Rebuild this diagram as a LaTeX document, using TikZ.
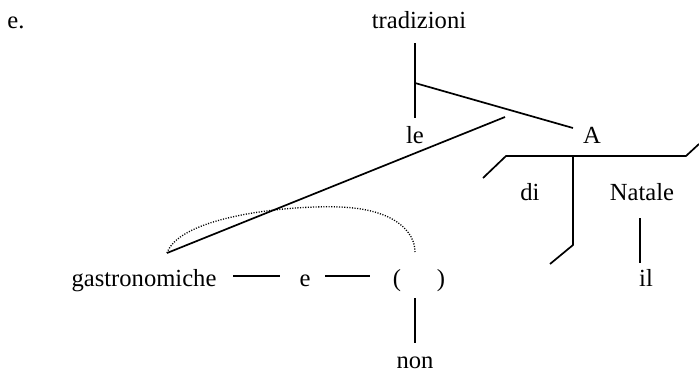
\documentclass[tikz,border=0pt]{standalone}
\usepackage{fontspec}
\setmainfont{Liberation Serif}
\begin{document}
\begin{tikzpicture}[x=1pt,y=-1pt,
  word/.style={anchor=base,inner sep=0pt,font=\fontsize{24.6}{29}\selectfont},
  ln/.style={line width=1.7pt},
  dotln/.style={line width=1.3pt,dash pattern=on 1.1pt off 1.5pt}]
\useasboundingbox (0,0) rectangle (699,373);
% words
\node[word] (ex) at (16,28) {e.};
\node[word] (trad) at (419,28) {tradizioni};
\node[word] (le) at (415,143) {le};
\node[word] (A) at (592,143) {A};
\node[word] (di) at (530,200) {di};
\node[word] (nat) at (642,200) {Natale};
\node[word] (il) at (646,286) {il};
\node[word] (gas) at (144,286) {gastronomiche};
\node[word] (e) at (305,286) {e};
\node[word] (lp) at (397,286) {(};
\node[word] (rp) at (441,286) {)};
\node[word] (non) at (415,368) {non};
% line ends
\coordinate (t1) at (415,43);
\coordinate (t2) at (415,118);
\coordinate (tj) at (415,83);
\coordinate (tA) at (573,128);
\coordinate (ad1) at (505,117);
\coordinate (ad2) at (167,253);
\coordinate (h1) at (506,156);
\coordinate (h2) at (686,156);
\coordinate (h3) at (699,144);
\coordinate (h0) at (483,178);
\coordinate (v1) at (573,156);
\coordinate (v2) at (573,245);
\coordinate (v3) at (550,264);
\coordinate (n1) at (640,218);
\coordinate (n2) at (640,263);
\coordinate (d1a) at (233,276);
\coordinate (d1b) at (280,276);
\coordinate (d2a) at (325,276);
\coordinate (d2b) at (370,276);
\coordinate (p1) at (415,298);
\coordinate (p2) at (415,343);
\coordinate (c1) at (415,252);
% lines
\draw[ln] (t1) -- (t2);
\draw[ln] (tj) -- (tA);
\draw[ln] (ad1) -- (ad2);
\draw[ln] (h0) -- (h1) -- (h2) -- (h3);
\draw[ln] (v1) -- (v2) -- (v3);
\draw[ln] (n1) -- (n2);
\draw[ln] (d1a) -- (d1b);
\draw[ln] (d2a) -- (d2b);
\draw[ln] (p1) -- (p2);
\draw[dotln] (ad2) .. controls (180,216) and (290,205) .. (340,207)
  .. controls (395,209) and (415,232) .. (c1);
\end{tikzpicture}
\end{document}
